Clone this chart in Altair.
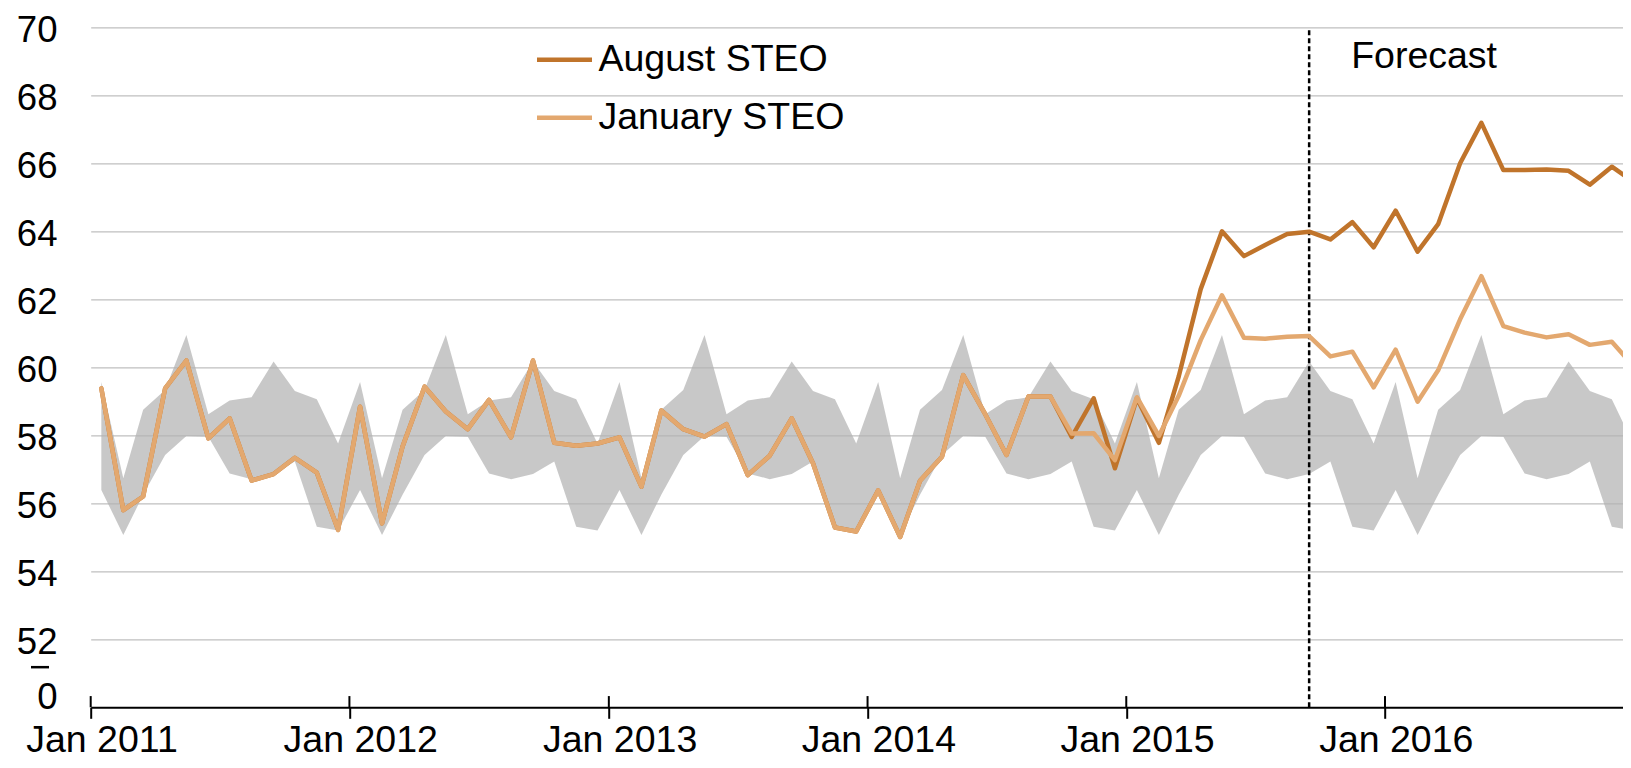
import altair as alt
import pandas as pd

# ---------------- data ----------------
years = [2011, 2012, 2013, 2014, 2015, 2016]
month_numbers = list(range(1, 13))

# 5-year range band, by calendar month (the same band is repeated each year)
band_low_by_month = [56.39, 55.07, 56.25, 57.42, 57.98, 57.96, 56.88, 56.71, 56.86, 57.23, 55.31, 55.20]
band_high_by_month = [59.57, 56.74, 58.75, 59.33, 60.95, 58.62, 59.02, 59.12, 60.17, 59.30, 59.06, 57.76]

# Jan 2011 - Sep 2014: both STEO editions identical
shared_history = [
    59.38, 55.80, 56.20, 59.38, 60.20, 57.91, 58.50, 56.67, 56.86, 57.34, 56.90, 55.22,
    58.84, 55.41, 57.67, 59.43, 58.70, 58.18, 59.04, 57.94, 60.20, 57.78, 57.69, 57.76,
    57.94, 56.49, 58.73, 58.18, 57.96, 58.33, 56.83, 57.40, 58.50, 57.18, 55.29, 55.17,
    56.38, 55.01, 56.66, 57.37, 59.77, 58.62, 57.42, 59.14, 59.14,
]
# Oct 2014 - Dec 2016
august_steo_tail = [
    57.95, 59.09, 57.03,
    59.09, 57.78, 59.73, 62.30, 64.00, 63.27, 63.60, 63.92, 63.99, 63.76, 64.27, 63.53,
    64.61, 63.40, 64.21, 66.00, 67.19, 65.80, 65.80, 65.82, 65.78, 65.37, 65.90, 65.46,
]
january_steo_tail = [
    58.05, 58.06, 57.27,
    59.12, 57.98, 59.16, 60.80, 62.12, 60.87, 60.84, 60.90, 60.92, 60.32, 60.46, 59.41,
    60.52, 58.99, 59.91, 61.41, 62.68, 61.21, 61.02, 60.88, 60.97, 60.66, 60.75, 60.05,
]

series_names = ["August STEO", "January STEO"]
series_colors = ["#C0742B", "#E3A86F"]
y_tick_values = [50, 52, 54, 56, 58, 60, 62, 64, 66, 68, 70]
forecast_start = "2015-09-16T00:00:00"
forecast_label = "Forecast"

# ---------------- tables ----------------
dates = [f"{y}-{m:02d}-16T00:00:00" for y in years for m in month_numbers]
band_df = pd.DataFrame({
    "date": dates,
    "low": band_low_by_month * len(years),
    "high": band_high_by_month * len(years),
})
aug_values = shared_history + august_steo_tail
jan_values = shared_history + january_steo_tail
lines_df = pd.DataFrame({
    "date": dates * 2,
    "series": [series_names[0]] * len(dates) + [series_names[1]] * len(dates),
    "value": aug_values + jan_values,
})
year_ticks_df = pd.DataFrame({
    "date": [f"{y}-01-01T00:00:00" for y in years],
    "y0": [50.0] * len(years),
    "y1": [50.33] * len(years),
})
forecast_df = pd.DataFrame({"date": [forecast_start], "y0": [50.0], "y1": [70.0],
                            "ty": [69.13], "label": [forecast_label]})
break_df = pd.DataFrame({"y": [51.18]})

FONT = "Liberation Sans"
FS_Y = 36.6
FS = 37.5

x_scale = alt.Scale(domain=[alt.DateTime(year=2011, month=1, date=1),
                            alt.DateTime(year=2016, month=12, date=1, hours=19)], nice=False)
y_scale = alt.Scale(domain=[50, 70], nice=False, zero=False)

x_axis = alt.Axis(
    values=[alt.DateTime(year=y, month=1, date=1) for y in years],
    format="%b %Y", labelOffset=10.8, labelFlush=False, labelOverlap=False,
    labelAngle=0, labelFont=FONT, labelFontSize=FS, labelColor="black",
    labelPadding=2.7, tickSize=11, tickWidth=2, tickColor="black",
    domainColor="black", domainWidth=2, grid=False, title=None,
)
y_axis = alt.Axis(
    values=y_tick_values,
    labelExpr="datum.value == 50 ? '0' : datum.label",
    labelFont=FONT, labelFontSize=FS_Y, labelColor="black", labelPadding=33.7,
    labelOffset={"condition": {"test": "datum.value == 50", "value": -10}, "value": 3},
    ticks=False, tickSize=0, domain=False, grid=True, gridColor="#BFBFBF", gridWidth=1.2,
    gridOpacity={"condition": {"test": "datum.value == 50", "value": 0}, "value": 1},
    title=None,
)

X = alt.X("date:T", scale=x_scale, axis=x_axis, title=None)

band = alt.Chart(band_df).mark_area(color="#B0B0B0", opacity=0.7).encode(
    x=X,
    y=alt.Y("low:Q", scale=y_scale, axis=y_axis, title=None),
    y2="high:Q",
)

inner_ticks = alt.Chart(year_ticks_df).mark_rule(color="black", strokeWidth=2).encode(
    x=X, y=alt.Y("y0:Q", scale=y_scale, axis=y_axis, title=None), y2="y1:Q",
)

forecast_rule = alt.Chart(forecast_df).mark_rule(
    color="black", strokeWidth=2.5, strokeDash=[5, 3]
).encode(x=X, y=alt.Y("y0:Q", scale=y_scale, axis=y_axis, title=None), y2="y1:Q")

forecast_text = alt.Chart(forecast_df).mark_text(
    align="left", baseline="middle", dx=42, font=FONT, fontSize=FS, color="black"
).encode(x=X, y=alt.Y("ty:Q", scale=y_scale, axis=y_axis, title=None), text="label:N")

color = alt.Color(
    "series:N",
    scale=alt.Scale(domain=series_names, range=series_colors),
    legend=alt.Legend(
        title=None, orient="none", legendX=443.8, legendY=2.5,
        symbolType="stroke", symbolSize=3025, symbolStrokeWidth=4.5,
        labelFont=FONT, labelFontSize=FS, labelColor="black", labelOffset=4,
        rowPadding=9, padding=0, labelLimit=0,
    ),
)

def series_line(name):
    return alt.Chart(lines_df).transform_filter(
        alt.datum.series == name
    ).mark_line(strokeWidth=4.5, strokeCap="round", strokeJoin="round").encode(
        x=X,
        y=alt.Y("value:Q", scale=y_scale, axis=y_axis, title=None),
        color=color,
    )

aug_line = series_line(series_names[0])
jan_line = series_line(series_names[1])

break_mark = alt.Chart(break_df).mark_rule(color="black", strokeWidth=2.5).encode(
    x=alt.value(-59.7), x2=alt.value(-41.7),
    y=alt.Y("y:Q", scale=y_scale, axis=y_axis, title=None),
)

chart = alt.layer(
    band, inner_ticks, forecast_rule, aug_line, jan_line, forecast_text, break_mark
).properties(
    width=1532.3, height=680,
    autosize=alt.AutoSizeParams(type="none"),
    padding={"left": 82.7, "top": 19.3, "right": 0, "bottom": 52.7},
    background="white",
).configure_view(stroke=None)

chart.save("out.html", embed_options={"renderer": "svg", "actions": False})
